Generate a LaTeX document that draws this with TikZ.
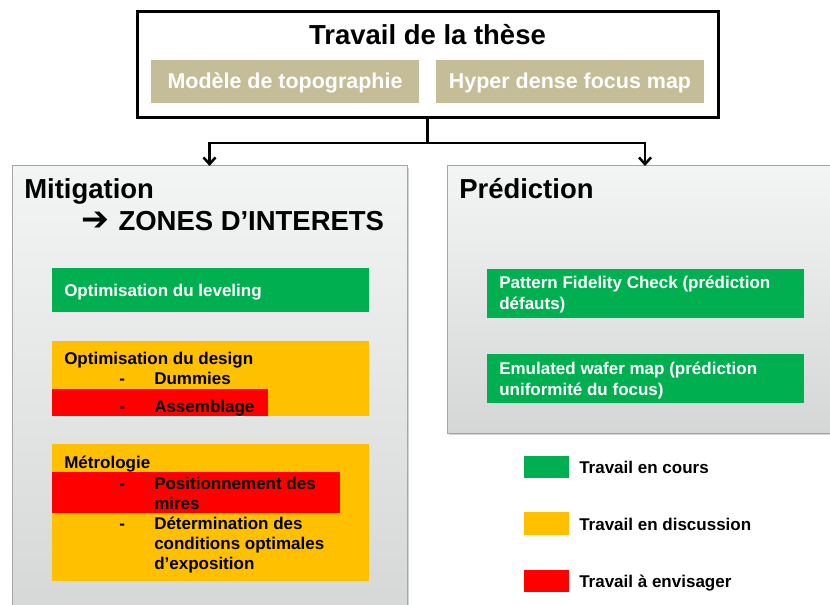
\documentclass[tikz,border=0pt]{standalone}
\usepackage{fontspec}
\setmainfont{Liberation Sans}
\newfontfamily\arrowfont{DejaVu Sans}
\usetikzlibrary{arrows.meta,shadows}

\definecolor{tanfill}{HTML}{C4BD97}
\definecolor{okgreen}{HTML}{00B050}
\definecolor{discorange}{HTML}{FFC000}
\definecolor{todored}{HTML}{FF0000}
\definecolor{panelline}{HTML}{A6A6A6}
\definecolor{paneltop}{HTML}{F3F4F4}
\definecolor{panelbottom}{HTML}{D5D6D6}

\newcommand{\headfont}{\fontsize{20.6}{24}\selectfont\bfseries}
\newcommand{\tanfont}{\fontsize{16.1}{19}\selectfont\bfseries}
\newcommand{\itemfont}{\fontsize{12.75}{15}\selectfont\bfseries}

\tikzset{
  box/.style={rectangle, anchor=north west, inner sep=0pt, outer sep=0pt},
  headbox/.style={box, draw, line width=2.25pt},
  tanbox/.style={box, fill=tanfill},
  panel/.style={box, draw=panelline, line width=0.75pt,
    top color=paneltop, bottom color=panelbottom,
    drop shadow={shadow xshift=1.5pt, shadow yshift=-1.5pt, opacity=0.35}},
  greenbar/.style={box, fill=okgreen},
  orangebar/.style={box, fill=discorange},
  redbar/.style={box, fill=todored},
  txt/.style={anchor=base west, inner sep=0pt, font=\itemfont},
  link/.style={line width=1.9pt, -{Straight Barb[length=5pt,width=9pt]}},
}

\begin{document}
\begin{tikzpicture}[x=0.75pt, y=-0.75pt]
  \useasboundingbox (0,0) rectangle (830,605);
  \clip (0,0) rectangle (830,605);

  % top box
  \node[headbox, minimum width=581*0.75pt, minimum height=106*0.75pt] (these) at (137,12) {};
  \node[anchor=base, inner sep=0pt, font=\headfont] (thesetitle) at (427.5,45) {Travail de la thèse};
  \node[tanbox, minimum width=268*0.75pt, minimum height=43*0.75pt] (topo) at (151,60) {};
  \node[tanbox, minimum width=268*0.75pt, minimum height=43*0.75pt] (focus) at (436,60) {};
  \node[anchor=base, inner sep=0pt, font=\tanfont, text=white] at (285,89) {Modèle de topographie};
  \node[anchor=base, inner sep=0pt, font=\tanfont, text=white] at (570,89) {Hyper dense focus map};

  % two panels
  \node[panel, minimum width=395*0.75pt, minimum height=460*0.75pt] (mitig) at (12,166) {};
  \node[panel, minimum width=396*0.75pt, minimum height=267*0.75pt] (pred) at (447,166) {};

  \draw[link] (these.south) -- ++(0,25) -| (mitig.north);
  \draw[link] (these.south) -- ++(0,25) -| (pred.north);

  % mitigation
  \node[txt, font=\headfont] (mitigtitle) at (24,199) {Mitigation};
  \node[txt, font=\headfont] (zones) at (81,231) {{\arrowfont\bfseries\fontsize{25}{25}\selectfont ➔}\hspace{7pt}ZONES D’INTERETS};

  \node[greenbar, minimum width=317*0.75pt, minimum height=44*0.75pt] (leveling) at (52,268) {};
  \node[txt, text=white] at (64,297) {Optimisation du leveling};

  \node[orangebar, minimum width=317*0.75pt, minimum height=75*0.75pt] (design) at (52,341) {};
  \node[redbar, minimum width=216*0.75pt, minimum height=27*0.75pt] (assemb) at (52,389) {};
  \node[txt] at (64,364) {Optimisation du design};
  \node[txt] at (119,384) {-};
  \node[txt] at (154,384) {Dummies};
  \node[txt] at (119,412) {-};
  \node[txt] at (154,412) {Assemblage};

  \node[orangebar, minimum width=317*0.75pt, minimum height=137*0.75pt] (metro) at (52,444) {};
  \node[redbar, minimum width=288*0.75pt, minimum height=41*0.75pt] (mires) at (52,472) {};
  \node[txt] at (64,468) {Métrologie};
  \node[txt] at (119,489) {-};
  \node[txt] at (154,489) {Positionnement des};
  \node[txt] at (154,509) {mires};
  \node[txt] at (119,529) {-};
  \node[txt] at (154,529) {Détermination des};
  \node[txt] at (154,549) {conditions optimales};
  \node[txt] at (154,569) {d’exposition};

  % prediction
  \node[txt, font=\headfont] (predtitle) at (459,199) {Prédiction};
  \node[greenbar, minimum width=317*0.75pt, minimum height=49*0.75pt] (pfc) at (487,269) {};
  \node[txt, text=white] at (499,289) {Pattern Fidelity Check (prédiction};
  \node[txt, text=white] at (499,310) {défauts)};
  \node[greenbar, minimum width=317*0.75pt, minimum height=49*0.75pt] (ewm) at (487,354) {};
  \node[txt, text=white] at (499,374) {Emulated wafer map (prédiction};
  \node[txt, text=white] at (499,395) {uniformité du focus)};

  % legend
  \node[greenbar, minimum width=45*0.75pt, minimum height=22*0.75pt] (keygreen) at (524,456) {};
  \node[orangebar, minimum width=45*0.75pt, minimum height=23*0.75pt] (keyorange) at (524,512) {};
  \node[redbar, minimum width=45*0.75pt, minimum height=22*0.75pt] (keyred) at (524,570) {};
  \node[txt] at (579,473) {Travail en cours};
  \node[txt] at (579,530) {Travail en discussion};
  \node[txt] at (579,587) {Travail à envisager};
\end{tikzpicture}
\end{document}
